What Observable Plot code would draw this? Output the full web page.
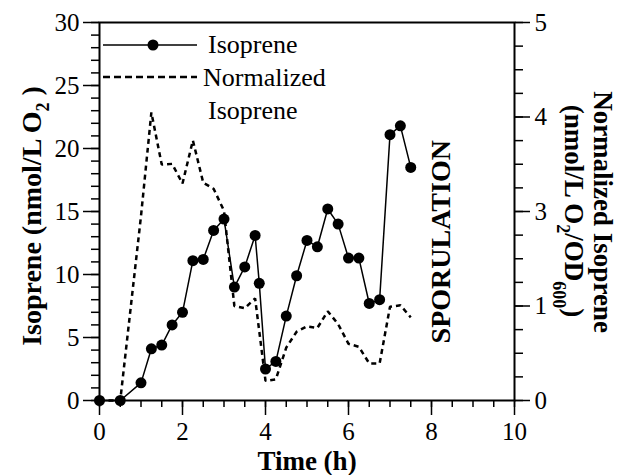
<!DOCTYPE html>
<html><head><meta charset="utf-8">
<script src="https://cdn.jsdelivr.net/npm/d3@7"></script>
<script src="https://cdn.jsdelivr.net/npm/@observablehq/plot@0.6"></script>
<style>
html,body{margin:0;padding:0;background:#fff}
svg{display:block}
#chart svg, #chart svg text, #chart svg g {font-family: "Liberation Serif", "Times New Roman", serif !important;}
#chart svg g[aria-label="y-axis tick label"] text, #chart svg g[aria-label="x-axis tick label"] text {font-size: 25px;}
</style>
</head><body><div id="chart"></div>
<script>
// Isoprene (nmol/L O2), left axis
const isoTimes = [0, 0.5, 1, 1.25, 1.5, 1.75, 2, 2.25, 2.5, 2.75, 3, 3.25, 3.5, 3.75, 3.85, 4, 4.25, 4.5, 4.75, 5, 5.25, 5.5, 5.75, 6, 6.25, 6.5, 6.75, 7, 7.25, 7.5];
const isoprene = [0, 0, 1.4, 4.1, 4.4, 6.0, 7.0, 11.1, 11.2, 13.5, 14.4, 9.0, 10.6, 13.1, 9.3, 2.5, 3.1, 6.7, 9.9, 12.7, 12.2, 15.2, 14.0, 11.3, 11.3, 7.7, 8.0, 21.1, 21.8, 18.5];
// Normalized isoprene, right axis (linear 0–5 scale of the right axis)
const normTimes = [0, 0.5, 1, 1.25, 1.5, 1.75, 2, 2.25, 2.5, 2.75, 3, 3.25, 3.5, 3.75, 4, 4.25, 4.5, 4.75, 5, 5.25, 5.5, 5.75, 6, 6.25, 6.5, 6.75, 7, 7.25, 7.5];
const normalized = [0, 0, 2.44, 3.81, 3.12, 3.13, 2.87, 3.44, 2.88, 2.8, 2.51, 1.25, 1.22, 1.35, 0.26, 0.28, 0.7, 0.91, 0.98, 0.96, 1.18, 1.01, 0.75, 0.71, 0.49, 0.49, 1.24, 1.26, 1.1];

const xTicks = [0, 2, 4, 6, 8, 10];
const yLeftTicks = [0, 5, 10, 15, 20, 25, 30];
const yRightTickLabels = ["0", "1", "3", "4", "5"];
const leftMax = 30, rightMax = 5;

const ratio = leftMax / rightMax;
const rightPositions = yRightTickLabels.map((_, i) => i * leftMax / (yRightTickLabels.length - 1));
const labelMap = new Map(rightPositions.map((p, i) => [p, yRightTickLabels[i]]));
const iso = isoTimes.map((t, i) => ({t, v: isoprene[i]}));
const norm = normTimes.map((t, i) => ({t, v: normalized[i]}));

const serif = '"Liberation Serif", "Times New Roman", serif';

const chart = Plot.plot({
  width: 620, height: 475,
  marginTop: 22, marginBottom: 75, marginLeft: 99, marginRight: 106,
  style: {fontSize: "25px", color: "#000", background: "#fff", overflow: "visible"},
  x: {domain: [0, 10]},
  y: {domain: [0, leftMax]},
  marks: [
    Plot.axisX({ticks: d3.range(0, 10.01, 0.5), tickSize: 7, tickFormat: () => "", label: null, strokeWidth: 1.5}),
    Plot.axisX({ticks: xTicks, tickSize: 15, tickPadding: 7, label: null, strokeWidth: 1.5}),
    Plot.axisY({ticks: d3.range(0, leftMax + 0.01, 1), tickSize: 8, tickFormat: () => "", label: null, strokeWidth: 1.5}),
    Plot.axisY({ticks: yLeftTicks, tickSize: 16, tickPadding: 4, label: null, strokeWidth: 1.5}),
    Plot.axisY({anchor: "right", ticks: d3.range(0, 17).map(i => i * leftMax / 16), tickSize: 8, tickFormat: () => "", label: null, strokeWidth: 1.5}),
    Plot.axisY({anchor: "right", ticks: rightPositions, tickSize: 15, tickPadding: 5, tickFormat: d => labelMap.get(d), label: null, strokeWidth: 1.5}),
    Plot.frame({stroke: "#000", strokeWidth: 2}),
    Plot.line(norm, {x: "t", y: d => d.v * ratio, stroke: "#000", strokeWidth: 2.5, strokeDasharray: "5,4", strokeLinecap: "butt", strokeLinejoin: "miter"}),
    Plot.line(iso, {x: "t", y: "v", stroke: "#000", strokeWidth: 1.5}),
    Plot.dot(iso, {x: "t", y: "v", r: 5.5, fill: "#000", stroke: "none"}),
    Plot.text(["SPORULATION"], {x: 8.22, y: 12.6, text: d => d, rotate: -90, fontWeight: "bold", fontSize: 28, fill: "#000"})
  ]
});
document.getElementById("chart").appendChild(chart);

const svg = d3.select(chart);
function title(transform, size) {
  return svg.append("text").attr("transform", transform)
    .attr("text-anchor", "middle").attr("font-family", serif).attr("font-weight", "bold")
    .attr("font-size", size).attr("fill", "#000");
}
// Left axis title
const lt = title("translate(41,216) rotate(-90)", 28);
lt.append("tspan").text("Isoprene (nmol/L O");
lt.append("tspan").attr("dy", 8).attr("font-size", 18).text("2");
lt.append("tspan").attr("dy", -8).text(" )");

// Right axis title
title("translate(594,212) rotate(90)", 27).text("Normalized Isoprene");
const r2 = title("translate(565,211) rotate(90)", 27);
r2.append("tspan").text("(nmol/L O");
r2.append("tspan").attr("dy", 8).attr("font-size", 18).text("2");
r2.append("tspan").attr("dy", -8).text("/OD");
r2.append("tspan").attr("dy", 12).attr("font-size", 18).text("600");
r2.append("tspan").attr("dy", -12).text(")");

// X axis title
title(null, 27).attr("x", 307).attr("y", 470).text("Time (h)");

// Legend
const lg = svg.append("g").attr("font-family", serif).attr("font-size", 26).attr("fill", "#000").attr("text-anchor", "start");
lg.append("line").attr("x1", 103).attr("x2", 197).attr("y1", 45).attr("y2", 45).attr("stroke", "#000").attr("stroke-width", 1.5);
lg.append("circle").attr("cx", 153).attr("cy", 45).attr("r", 5.5).attr("fill", "#000");
lg.append("text").attr("x", 208).attr("y", 53).text("Isoprene");
lg.append("line").attr("x1", 103).attr("x2", 197).attr("y1", 77).attr("y2", 77).attr("stroke", "#000").attr("stroke-width", 2.5).attr("stroke-dasharray", "7,4");
lg.append("text").attr("x", 203).attr("y", 86).text("Normalized");
lg.append("text").attr("x", 208).attr("y", 119).text("Isoprene");
</script>
</body></html>
